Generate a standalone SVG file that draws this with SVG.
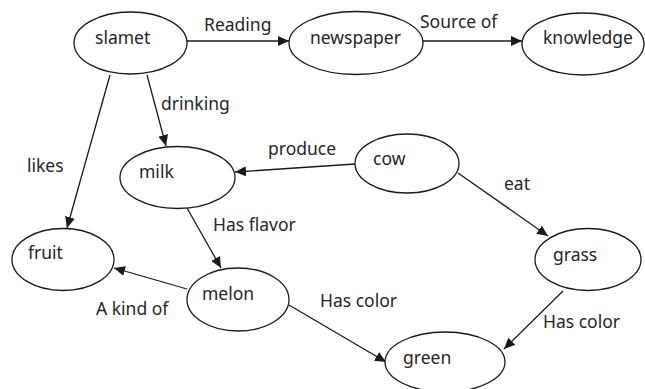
<svg xmlns="http://www.w3.org/2000/svg" width="645" height="389" viewBox="0 0 645 389">
  <style>
    .node ellipse { fill: #ffffff; stroke: #1a1a1a; stroke-width: 1.3; }
    text { font-family: "Noto Sans", "Open Sans", "Liberation Sans", sans-serif; font-size: 17.5px; fill: #262626; }
    .edge line { stroke: #1a1a1a; stroke-width: 1.3; marker-end: url(#arrow); }
  </style>
  <defs>
    <marker id="arrow" markerUnits="userSpaceOnUse" markerWidth="12" markerHeight="10" refX="11" refY="5" orient="auto">
      <path d="M0,0 L11,5 L0,10 Z" fill="#1a1a1a"/>
    </marker>
  </defs>
  <rect width="645" height="389" fill="#ffffff"/>

  <!-- connectors -->
  <g id="edges" class="edge">
    <line x1="187" y1="41" x2="289" y2="41"/>
    <line x1="423" y1="41" x2="522" y2="41"/>
    <line x1="110" y1="75" x2="67" y2="228"/>
    <line x1="147" y1="75" x2="166" y2="146"/>
    <line x1="355" y1="164" x2="235" y2="172"/>
    <line x1="458" y1="173" x2="548" y2="236"/>
    <line x1="187" y1="208" x2="221" y2="268"/>
    <line x1="187" y1="289" x2="114" y2="268"/>
    <line x1="289" y1="305" x2="386" y2="362"/>
    <line x1="563" y1="291" x2="504" y2="349"/>
  </g>

  <!-- connector labels -->
  <g id="edge-labels">
    <text x="204" y="31">Reading</text>
    <text x="420" y="28">Source of</text>
    <text x="27" y="172">likes</text>
    <text x="161" y="110">drinking</text>
    <text x="268" y="155">produce</text>
    <text x="504" y="190">eat</text>
    <text x="213" y="231">Has flavor</text>
    <text x="96" y="315">A kind of</text>
    <text x="320" y="307">Has color</text>
    <text x="543" y="328">Has color</text>
  </g>

  <!-- nodes -->
  <g id="slamet" class="node">
    <ellipse cx="130.5" cy="43" rx="56.5" ry="31"/>
    <text x="95" y="44">slamet</text>
  </g>
  <g id="newspaper" class="node">
    <ellipse cx="356" cy="43" rx="67" ry="31.5"/>
    <text x="310" y="44">newspaper</text>
  </g>
  <g id="knowledge" class="node">
    <ellipse cx="583" cy="44" rx="61" ry="31"/>
    <text x="543" y="44">knowledge</text>
  </g>
  <g id="milk" class="node">
    <ellipse cx="177.5" cy="177.5" rx="57.5" ry="31"/>
    <text x="139" y="178">milk</text>
  </g>
  <g id="cow" class="node">
    <ellipse cx="407" cy="163.5" rx="52" ry="29.5"/>
    <text x="373" y="165">cow</text>
  </g>
  <g id="fruit" class="node">
    <ellipse cx="63" cy="259.5" rx="51" ry="31"/>
    <text x="28" y="259">fruit</text>
  </g>
  <g id="melon" class="node">
    <ellipse cx="238" cy="299.5" rx="51" ry="31.5"/>
    <text x="202" y="300">melon</text>
  </g>
  <g id="grass" class="node">
    <ellipse cx="588" cy="259.5" rx="53" ry="31"/>
    <text x="553" y="261">grass</text>
  </g>
  <g id="green" class="node">
    <ellipse cx="445" cy="362" rx="60" ry="30"/>
    <text x="403" y="364">green</text>
  </g>
</svg>
